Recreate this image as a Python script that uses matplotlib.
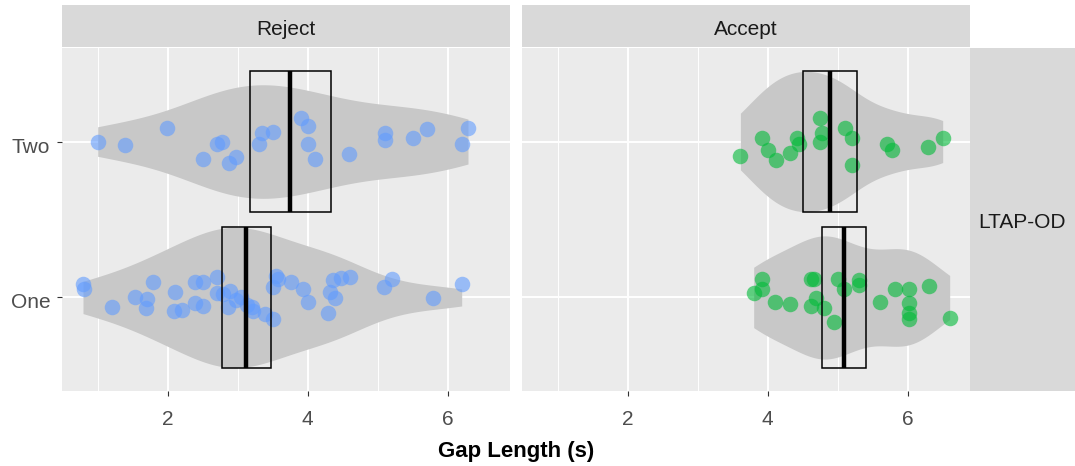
import numpy as np
import matplotlib
matplotlib.use("Agg")
import matplotlib.pyplot as plt
import matplotlib.transforms as mtransforms
from matplotlib.patches import Rectangle

plt.rcParams['font.family'] = ['Liberation Sans', 'DejaVu Sans']

# ---- data -------------------------------------------------------------
categories = ["One", "Two"]
panels = ["Reject", "Accept"]
row_label = "LTAP-OD"

# gap lengths (s) and vertical jitter offsets for each group
reject_two_x = [1.00, 1.39, 1.99, 2.50, 2.70, 2.77, 2.88, 2.98, 3.31, 3.34, 3.50,
                3.90, 4.00, 4.00, 4.10, 4.59, 5.10, 5.10, 5.50, 5.71, 6.20, 6.29]
reject_two_dy = [0.00, -0.02, 0.09, -0.115, -0.013, 0.0, -0.14, -0.10, -0.013, 0.058, 0.062,
                 0.15, 0.10, -0.013, -0.115, -0.083, 0.058, 0.01, 0.02, 0.08, -0.013, 0.09]

reject_one_x = [0.79, 0.80, 1.20, 1.53, 1.70, 1.69, 1.79, 2.10, 2.09, 2.20, 2.39, 2.50,
                2.39, 2.50, 2.70, 2.70, 2.79, 2.89, 2.86, 2.98, 3.05, 3.13, 3.20, 3.22,
                3.39, 3.50, 3.50, 3.55, 3.58, 3.76, 3.93, 4.00, 4.29, 4.32, 4.39, 4.36,
                4.48, 4.60, 5.09, 5.20, 5.79, 6.20]
reject_one_dy = [0.085, 0.055, -0.064, 0.006, -0.013, -0.066, 0.10, 0.032, -0.09, -0.08, 0.10, 0.096,
                 -0.038, -0.053, 0.13, 0.026, 0.02, 0.04, -0.06, -0.017, 0.0, -0.05, -0.06, -0.088,
                 -0.107, -0.135, 0.07, 0.14, 0.12, 0.096, 0.053, -0.032, -0.098, 0.032, -0.006, 0.11,
                 0.126, 0.13, 0.07, 0.12, -0.006, 0.085]

accept_two_x = [3.61, 3.92, 4.01, 4.12, 4.32, 4.42, 4.45, 4.75, 4.78, 4.75, 5.10,
                5.20, 5.20, 5.71, 5.77, 6.29, 6.50]
accept_two_dy = [-0.092, 0.024, -0.056, -0.12, -0.072, 0.02, -0.013, 0.15, 0.058, 0.0, 0.088,
                 0.02, -0.15, -0.013, -0.056, -0.034, 0.02]

accept_one_x = [3.80, 3.92, 3.92, 4.11, 4.32, 4.62, 4.66, 4.69, 4.62, 4.81, 4.95, 5.00,
                5.09, 5.30, 5.31, 5.61, 5.82, 6.02, 6.02, 6.02, 6.02, 6.30, 6.60]
accept_one_dy = [0.026, 0.12, 0.053, -0.028, -0.043, 0.12, 0.117, -0.006, -0.053, -0.066, -0.156, 0.12,
                 0.053, 0.11, 0.083, -0.032, 0.053, 0.053, -0.038, -0.10, -0.135, 0.072, -0.13]

# mean and confidence limits drawn as crossbars: (lower, mean, upper)
reject_one_ci = (2.78, 3.12, 3.47)
reject_two_ci = (3.18, 3.75, 4.33)
accept_one_ci = (4.77, 5.09, 5.41)
accept_two_ci = (4.51, 4.89, 5.27)

x_ticks = [2, 4, 6]
x_label = "Gap Length (s)"

groups = {
    "Reject": {"One": (reject_one_x, reject_one_dy, reject_one_ci),
               "Two": (reject_two_x, reject_two_dy, reject_two_ci)},
    "Accept": {"One": (accept_one_x, accept_one_dy, accept_one_ci),
               "Two": (accept_two_x, accept_two_dy, accept_two_ci)},
}
point_colors = {"Reject": "#619CFF", "Accept": "#00BA38"}

TEXT_SIZE = 15
TITLE_SIZE = 16

# ---- helpers ----------------------------------------------------------
W, H = 1075, 466


def px_box(x0, y0, x1, y1):
    return [x0 / W, 1 - y1 / H, (x1 - x0) / W, (y1 - y0) / H]


def kde(values, n=512):
    v = np.asarray(values, float)
    sd = v.std(ddof=1)
    iqr = np.subtract(*np.percentile(v, [75, 25]))
    lo = min(sd, iqr / 1.34) if iqr > 0 else sd
    bw = 0.9 * lo * len(v) ** -0.2
    grid = np.linspace(v.min(), v.max(), n)
    dens = np.exp(-0.5 * ((grid[:, None] - v[None, :]) / bw) ** 2).sum(axis=1)
    dens /= (len(v) * bw * np.sqrt(2 * np.pi))
    return grid, dens


fig = plt.figure(figsize=(W / 100, H / 100), dpi=100)
fig.patch.set_facecolor("white")
down = mtransforms.ScaledTranslation(0, -3.5 / 100, fig.dpi_scale_trans)

panel_px = {"Reject": (62, 510), "Accept": (522, 970)}
top, bottom = 48, 391

for i, name in enumerate(panels):
    x0, x1 = panel_px[name]
    ax = fig.add_axes(px_box(x0, top, x1, bottom))
    ax.set_facecolor("#EBEBEB")
    ax.set_xlim(0.49, 6.89)
    ax.set_ylim(0.4, 2.6)
    for s in ax.spines.values():
        s.set_visible(False)

    # grid
    for gx in [1, 3, 5]:
        ax.axvline(gx, color="white", lw=0.7, zorder=0)
    for gx in x_ticks:
        ax.axvline(gx, color="white", lw=1.4, zorder=0)
    for gy in [1, 2]:
        ax.axhline(gy, color="white", lw=1.4, zorder=0)

    # violins, scaled by the widest density in the panel
    dens_all = {c: kde(groups[name][c][0]) for c in categories}
    dmax = max(d.max() for _, d in dens_all.values())
    for j, cat in enumerate(categories):
        pos = j + 1
        grid, d = dens_all[cat]
        w = 0.45 * d / dmax
        ax.fill_between(grid, pos - w, pos + w, color="#C8C8C8", lw=0, zorder=1)

    # jittered points
    for j, cat in enumerate(categories):
        pos = j + 1
        xs, dys, _ = groups[name][cat]
        ax.scatter(xs, pos + np.asarray(dys), s=125, color=point_colors[name],
                   alpha=0.6, linewidths=0, zorder=2)

    # crossbars
    for j, cat in enumerate(categories):
        pos = j + 1
        lo, mid, hi = groups[name][cat][2]
        ax.add_patch(Rectangle((lo, pos - 0.45), hi - lo, 0.9, fill=False,
                               ec="black", lw=1.1, zorder=3))
        ax.plot([mid, mid], [pos - 0.45, pos + 0.45], color="black", lw=3.2,
                solid_capstyle="butt", zorder=4)

    ax.set_xticks(x_ticks)
    ax.set_xticklabels([str(t) for t in x_ticks])
    ax.tick_params(axis="x", length=3.5, width=0.8, color="#333333",
                   labelcolor="#4D4D4D", labelsize=TEXT_SIZE, pad=10)
    if i == 0:
        ax.set_yticks([1, 2])
        ax.set_yticklabels(categories)
        ax.tick_params(axis="y", length=3.5, width=0.8, color="#333333",
                       labelcolor="#4D4D4D", labelsize=TEXT_SIZE, pad=5)
        for lab in ax.get_yticklabels():
            lab.set_transform(lab.get_transform() + down)
    else:
        ax.set_yticks([])

    # facet strip on top
    sax = fig.add_axes(px_box(x0, 5, x1, 47))
    sax.set_facecolor("#D9D9D9")
    sax.set_xticks([]); sax.set_yticks([])
    for s in sax.spines.values():
        s.set_visible(False)
    sax.text(0.5, 0.5, name, ha="center", va="center", fontsize=TEXT_SIZE,
             color="#1A1A1A", transform=sax.transAxes + down)

# row strip on the right
rax = fig.add_axes(px_box(970, top, 1075, bottom))
rax.set_facecolor("#D9D9D9")
rax.set_xticks([]); rax.set_yticks([])
for s in rax.spines.values():
    s.set_visible(False)
rax.text(0.5, 0.5, row_label, ha="center", va="center", fontsize=TEXT_SIZE,
         color="#1A1A1A", transform=rax.transAxes + down)

fig.text(516 / W, 1 - 451 / H, x_label, ha="center", va="center",
         fontsize=TITLE_SIZE, fontweight="bold", color="black")

fig.savefig("out.png", dpi=100)
